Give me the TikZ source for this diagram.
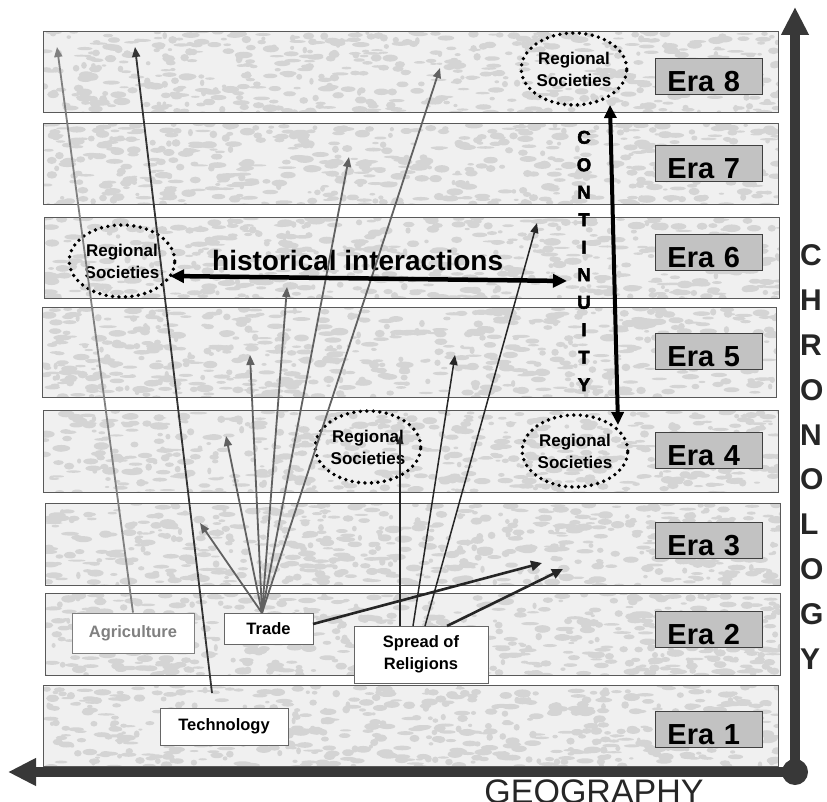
\documentclass[tikz,border=0pt]{standalone}
\usepackage{fontspec}
\setmainfont{Liberation Sans}
\newfontfamily\heavyfont[FakeBold=3]{Liberation Sans Bold}
\usetikzlibrary{arrows.meta,shapes.geometric,calc}
\definecolor{bandfill}{gray}{0.94}
\definecolor{bandblob}{gray}{0.83}
\definecolor{bandedge}{gray}{0.35}
\definecolor{erafill}{gray}{0.76}
\definecolor{axisgray}{gray}{0.22}
\definecolor{agrigray}{gray}{0.5}
\definecolor{fangray}{gray}{0.38}
\definecolor{darkline}{gray}{0.15}
\begin{document}
\begin{tikzpicture}[x=1pt,y=-1pt,
  band/.style={fill=bandfill, inner sep=0pt, minimum width=734pt, minimum height=80pt},
  bandframe/.style={draw=bandedge, line width=0.9pt},
  erabox/.style={draw=black!75, fill=erafill, line width=0.9pt, font=\bfseries\fontsize{29}{29}\selectfont,
    text height=30pt, text depth=0pt, text width=83pt, inner xsep=12pt, inner ysep=3pt, align=left, anchor=south west},
  society/.style={ellipse, draw=black, line width=3.8pt, dash pattern=on 0pt off 6.5pt, line cap=round,
    minimum width=104pt, minimum height=72pt, inner sep=0pt, align=center, font=\bfseries\fontsize{17}{22}\selectfont},
  labelbox/.style={draw=black!60, fill=white, line width=0.9pt, inner sep=0pt, align=center,
    font=\bfseries\fontsize{16.5}{22}\selectfont},
  thinarrow/.style={-{Triangle[length=10pt,width=8pt]}, line width=1.8pt},
  thickarrow/.style={-{Triangle[length=11pt,width=10pt]}, line width=2.6pt, draw=darkline},
  axisline/.style={draw=axisgray, line width=10pt, -{Triangle[length=28pt,width=26pt]}}
]
\useasboundingbox (0,0) rectangle (827,802);

% era bands
\node[band] (b8) at (411,72) {};
\node[band] (b7) at (411,164) {};
\node[band] (b6) at (412,258) {};
\node[band, minimum height=89pt] (b5) at (409.5,352.5) {};
\node[band, minimum height=81pt] (b4) at (411,451.5) {};
\node[band, minimum height=81pt] (b3) at (413,544.5) {};
\node[band, minimum height=81pt] (b2) at (413,634.5) {};
\node[band] (b1) at (411,726) {};

% mottled texture of the bands
\pgfmathsetseed{4711}
\foreach \b in {b1,b2,b3,b4,b5,b6,b7,b8}{
  \begin{scope}
    \clip (\b.south west) rectangle (\b.north east);
    \foreach \i in {1,...,640}{
      \pgfmathsetmacro\rx{rnd*740}
      \pgfmathsetmacro\ry{rnd*90}
      \pgfmathsetmacro\ax{2+rnd*7}
      \pgfmathsetmacro\ay{1+rnd*2.8}
      \fill[bandblob] ($(\b.north west)+(\rx,\ry)$) ellipse[x radius=\ax pt, y radius=\ay pt];
    }
  \end{scope}
  \draw[bandframe] (\b.south west) rectangle (\b.north east);
}

% era labels
\node[erabox] (l8) at (655,95) {Era 8};
\node[erabox] (l7) at (655,182) {Era 7};
\node[erabox] (l6) at (655,271) {Era 6};
\node[erabox] (l5) at (655,370) {Era 5};
\node[erabox] (l4) at (655,469) {Era 4};
\node[erabox] (l3) at (655,559) {Era 3};
\node[erabox] (l2) at (655,648) {Era 2};
\node[erabox] (l1) at (655,748) {Era 1};

% regional societies
\node[society] (rs8) at (574,69) {Regional\\Societies};
\node[society] (rs6) at (122,261) {Regional\\Societies};
\node[society] (rs4m) at (368,447) {Regional\\Societies};
\node[society] (rs4) at (575,451) {Regional\\Societies};

% theme boxes
\node[labelbox, minimum width=122pt, minimum height=40pt, text=agrigray, draw=agrigray] (agri) at (133,633) {Agriculture};
\node[labelbox, minimum width=89pt, minimum height=31pt] (trade) at (268.5,628.5) {Trade};
\node[labelbox, minimum width=134pt, minimum height=57pt] (relig) at (421,654.5) {Spread of\\Religions};
\node[labelbox, minimum width=128pt, minimum height=37pt] (tech) at (224,726.5) {Technology};

% texts
\node[anchor=base west, inner sep=0pt, font=\bfseries\fontsize{28}{28}\selectfont] (hist) at (212,271) {historical interactions};
\node[inner sep=0pt, align=center, font=\heavyfont\fontsize{18.5}{27.5}\selectfont] (cont) at (584,261) {C\\O\\N\\T\\I\\N\\U\\I\\T\\Y};
\node[inner sep=0pt, align=left, anchor=west, font=\bfseries\fontsize{30}{44.8}\selectfont, text=black!85] (chrono) at (800,457) {C\\H\\R\\O\\N\\O\\L\\O\\G\\Y};
\node[anchor=base, inner sep=0pt, font=\fontsize{34}{34}\selectfont, text=black!85] (geo) at (594,803) {GEOGRAPHY};

% coordinates
\coordinate (agriTip) at (57,47);
\coordinate (techStart) at (212,693);
\coordinate (techTip) at (135,47);
\coordinate (ts) at (262,613);
\coordinate (t1) at (200,523);
\coordinate (t2) at (226,436);
\coordinate (t3) at (250,355);
\coordinate (t4) at (287,287);
\coordinate (t5) at (349,157);
\coordinate (t6) at (440,68);
\coordinate (trR) at (313,624);
\coordinate (trTip) at (542,563);
\coordinate (r1s) at (400,626);
\coordinate (r1t) at (400,436);
\coordinate (r2s) at (413,626);
\coordinate (r2t) at (455,355);
\coordinate (r3s) at (425,626);
\coordinate (r3t) at (537,223);
\coordinate (r4s) at (447,626);
\coordinate (r4t) at (563,569);
\coordinate (hiL) at (170,276);
\coordinate (hiR) at (567,281);
\coordinate (coT) at (610,105);
\coordinate (coB) at (618,425);
\coordinate (origin) at (795,772);
\coordinate (yTip) at (795,7);
\coordinate (xTip) at (8,772);

% arrows
\draw[thinarrow, draw=agrigray, fill=agrigray] (agri.north) -- (agriTip);
\draw[thinarrow, draw=black!80] (techStart) -- (techTip);
\foreach \t in {t1,t2,t3,t4,t5,t6}
  \draw[thinarrow, draw=fangray] (ts) -- (\t);
\draw[thickarrow] (trR) -- (trTip);
\draw[thinarrow, line width=1.5pt, draw=darkline, -{Triangle[length=8pt,width=7pt]}] (r1s) -- (r1t);
\draw[thinarrow, line width=1.5pt, draw=darkline] (r2s) -- (r2t);
\draw[thinarrow, line width=1.5pt, draw=darkline] (r3s) -- (r3t);
\draw[thickarrow] (r4s) -- (r4t);
\draw[line width=4.5pt, {Triangle[length=14pt,width=13pt]}-{Triangle[length=14pt,width=13pt]}] (hiL) -- (hiR);
\draw[line width=4pt, {Triangle[length=13pt,width=12pt]}-{Triangle[length=13pt,width=12pt]}] (coT) -- (coB);

% axes
\draw[axisline] (origin) -- (yTip);
\draw[axisline] (origin) -- (xTip);
\fill[axisgray] (origin) circle[radius=13pt];
\end{tikzpicture}
\end{document}
